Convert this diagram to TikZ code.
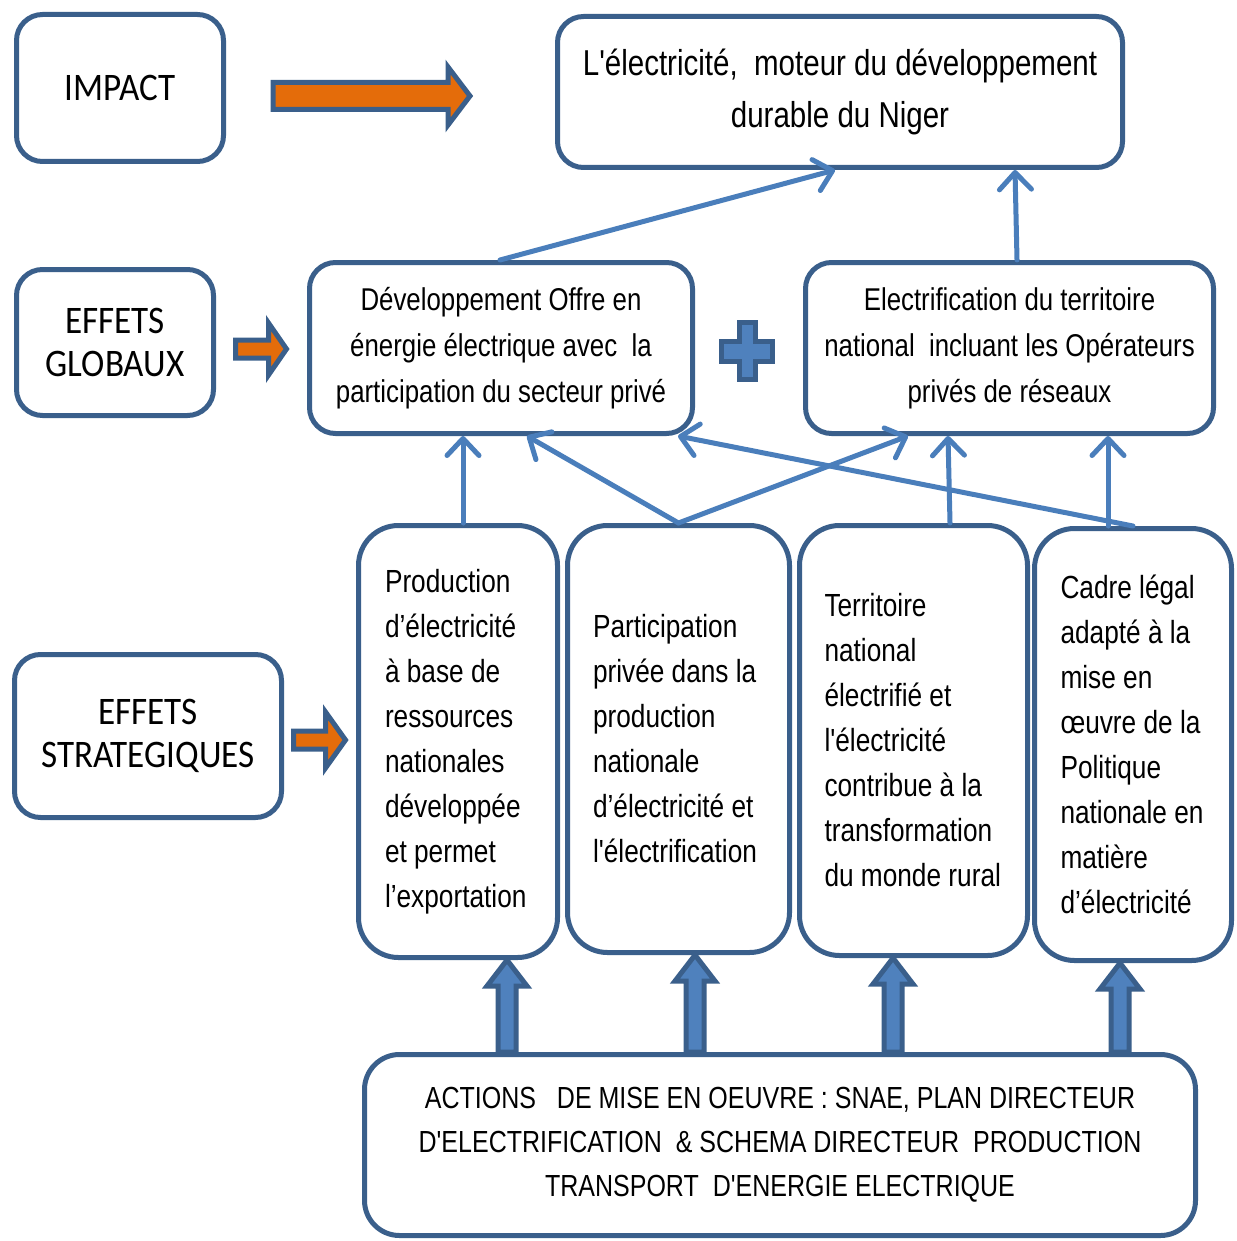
\documentclass[tikz,border=0pt]{standalone}
\usepackage{fontspec}
\usepackage{tikz}
\usetikzlibrary{positioning,calc,arrows.meta}
\newfontfamily\narrowfont{Liberation Sans}[FakeStretch=0.82,Ligatures=TeXOff]
\newfontfamily\headfont{Carlito}[FakeStretch=0.9]
\definecolor{boxblue}{HTML}{3A5F8B}
\definecolor{linkblue}{HTML}{4A7EBB}
\definecolor{fillblue}{HTML}{4F81BD}
\definecolor{arrorange}{HTML}{E46C0A}

% block arrows: start, tip, shaft half width, head half width, head length
\newcommand\blockright[5]{%
  \path[orangearr] let \p1=#1, \p2=#2 in
    (\x1,\y1+#3pt) -- (\x2-#5pt,\y1+#3pt) -- (\x2-#5pt,\y1+#4pt) -- (\x2,\y1)
    -- (\x2-#5pt,\y1-#4pt) -- (\x2-#5pt,\y1-#3pt) -- (\x1,\y1-#3pt) -- cycle;}
\newcommand\blockup[2]{%
  \path[bluearr] let \p1=#1, \p2=#2 in
    (\x1-9pt,\y1) -- (\x1-9pt,\y2-26pt) -- (\x1-20pt,\y2-26pt) -- (\x1,\y2)
    -- (\x1+20pt,\y2-26pt) -- (\x1+9pt,\y2-26pt) -- (\x1+9pt,\y1) -- cycle;}

\begin{document}
\begin{tikzpicture}[x=1pt, y=-1pt,
    box/.style={draw=boxblue, line width=5pt, rounded corners=26pt, fill=white, align=flush center, inner sep=0pt},
    headbox/.style={box, font=\headfont\fontsize{39}{43}\selectfont},
    titlebox/.style={box, font=\narrowfont\fontsize{36}{52}\selectfont},
    midbox/.style={box, font=\narrowfont\fontsize{31.5}{46}\selectfont},
    tallbox/.style={box, rounded corners=40pt, align=flush left, font=\narrowfont\fontsize{32}{45}\selectfont},
    actionbox/.style={box, rounded corners=35pt, font=\narrowfont\fontsize{30.5}{44}\selectfont},
    link/.style={draw=linkblue, line width=5pt, line cap=round, -{Straight Barb[length=17pt,width=32pt,round]}},
    bluearr/.style={draw=boxblue, fill=fillblue, line width=5pt},
    orangearr/.style={draw=boxblue, fill=arrorange, line width=5pt},
    plussign/.style={draw=boxblue, fill=fillblue, line width=5pt}
]
    \useasboundingbox (0,0) rectangle (1236,1241);

    % Levels
    \node[headbox, minimum width=207, minimum height=147] (impact) at (120,88) {IMPACT};
    \node[headbox, minimum width=197, minimum height=146] (globaux) at (115,342.5) {EFFETS\\GLOBAUX};
    \node[headbox, minimum width=267, minimum height=163] (strateg) at (148,736) {EFFETS\\STRATEGIQUES};

    % Impact
    \node[titlebox, minimum width=565, minimum height=151] (moteur) at (840,92)
        {L'électricité,\ \ moteur du développement\\durable du Niger};

    % Global effects
    \node[midbox, minimum width=383, minimum height=171] (offre) at (501,348)
        {Développement Offre en\\énergie électrique avec\ \ la\\participation du secteur privé};
    \node[midbox, minimum width=408, minimum height=171] (electrif) at (1009.5,348)
        {Electrification du territoire\\national\ \ incluant les Opérateurs\\privés de réseaux};
    \draw[plussign, shift={(747,351)}] (-8,-28.5) -- (8,-28.5) -- (8,-10) -- (25.5,-10) -- (25.5,10)
        -- (8,10) -- (8,28.5) -- (-8,28.5) -- (-8,10) -- (-25.5,10) -- (-25.5,-10) -- (-8,-10) -- cycle;

    % Strategic effects
    \node[tallbox, text width=146pt, inner xsep=26.5pt, minimum height=432] (prod) at (458,741.5)
        {Production\\d’électricité\\à base de\\ressources\\nationales\\développée\\et permet\\l’exportation};
    \node[tallbox, text width=171pt, inner xsep=25.5pt, minimum height=427] (partic) at (678.5,739)
        {Participation\\privée dans la\\production\\nationale\\d’électricité et\\l'électrification};
    \node[tallbox, text width=178pt, inner xsep=25pt, minimum height=430] (territ) at (913.5,740.5)
        {Territoire\\national\\électrifié et\\l'électricité\\contribue à la\\transformation\\du monde rural};
    \node[tallbox, text width=145pt, inner xsep=26pt, minimum height=432] (cadre) at (1133,744.5)
        {Cadre légal\\adapté à la\\mise en\\œuvre de la\\Politique\\nationale en\\matière\\d’électricité};

    % Actions
    \node[actionbox, minimum width=831, minimum height=181] (actions) at (780,1145)
        {ACTIONS\ \ \ DE MISE EN OEUVRE : SNAE, PLAN DIRECTEUR\\D'ELECTRIFICATION\ \ \& SCHEMA DIRECTEUR\ \ PRODUCTION\\TRANSPORT\ \ D'ENERGIE ELECTRIQUE};

    % Links
    \draw[link] ([xshift=-1pt]offre.north) -- ([xshift=-5pt]moteur.south);
    \draw[link] ([xshift=7.5pt]electrif.north) -- ([xshift=175pt]moteur.south);
    \draw[link] ([xshift=5pt]prod.north) -- ([xshift=-38pt]offre.south);
    \draw[link] (partic.north) -- ([xshift=26pt]offre.south);
    \draw[link] (partic.north) -- ([xshift=-101.5pt]electrif.south);
    \draw[link] ([xshift=36.5pt]territ.north) -- ([xshift=-61.5pt]electrif.south);
    \draw[link] (cadre.north) -- ([xshift=177pt]offre.south);
    \draw[link] ([xshift=-25pt]cadre.north) -- ([xshift=98.5pt]electrif.south);

    % Level arrows
    \blockright{($(impact.east)+(47,8)$)}{($(moteur.west)+(-85,0)$)}{13.5}{29}{22}
    \blockright{($(globaux.east)+(19.5,6.5)$)}{($(offre.west)+(-20.5,0)$)}{9}{26}{18}
    \blockright{($(strateg.east)+(9.5,4)$)}{($(prod.west)+(-10.5,0)$)}{9}{28}{20}

    % Action arrows
    \blockup{($(actions.north)+(-273,0)$)}{(prod.south)}
    \blockup{($(actions.north)+(-85,0)$)}{(partic.south)}
    \blockup{($(actions.north)+(113,0)$)}{(territ.south)}
    \blockup{($(actions.north)+(340,0)$)}{(cadre.south)}
\end{tikzpicture}
\end{document}
